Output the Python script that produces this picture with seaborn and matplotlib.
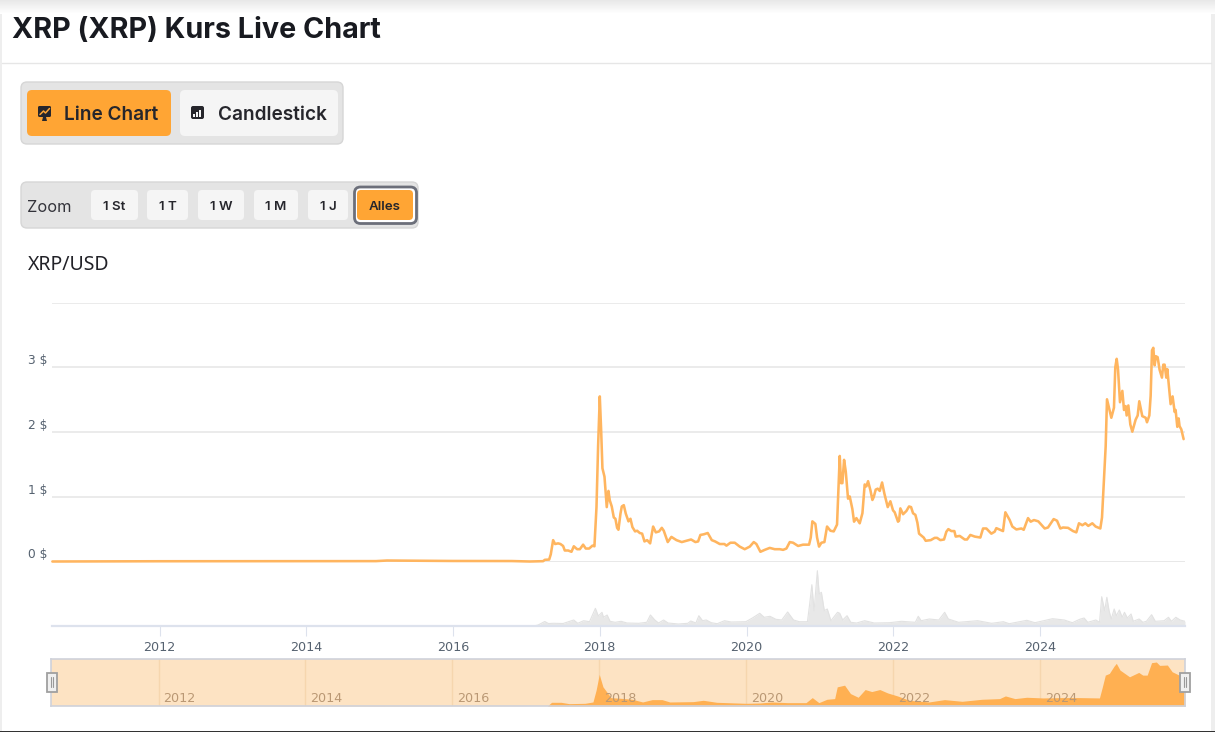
import matplotlib
matplotlib.use('Agg')
import matplotlib.pyplot as plt
from matplotlib.patches import FancyBboxPatch, Rectangle, Polygon
import pandas as pd
import seaborn as sns

# price (decimal year, USD)
price_years = [
    2010.54, 2012.0, 2014.0, 2014.95, 2015.1, 2016.0, 2016.8, 2017.046, 2017.228, 2017.251, 2017.310, 2017.332,
    2017.364, 2017.391, 2017.432, 2017.464, 2017.500, 2017.523, 2017.569, 2017.614, 2017.646, 2017.691,
    2017.728, 2017.773, 2017.809, 2017.855, 2017.900, 2017.927, 2017.955, 2017.977, 2018.000, 2018.018,
    2018.036, 2018.064, 2018.095, 2018.118, 2018.136, 2018.163, 2018.191, 2018.213, 2018.236, 2018.254,
    2018.282, 2018.300, 2018.327, 2018.354, 2018.391, 2018.418, 2018.445, 2018.481, 2018.509, 2018.545,
    2018.577, 2018.609, 2018.645, 2018.686, 2018.727, 2018.763, 2018.808, 2018.845, 2018.872, 2018.926,
    2018.976, 2019.045, 2019.117, 2019.181, 2019.244, 2019.303, 2019.340, 2019.371, 2019.417, 2019.471,
    2019.526, 2019.571, 2019.635, 2019.698, 2019.726, 2019.780, 2019.839, 2019.907, 2019.975, 2020.044,
    2020.098, 2020.134, 2020.189, 2020.248, 2020.316, 2020.384, 2020.452, 2020.498, 2020.543, 2020.589,
    2020.634, 2020.702, 2020.770, 2020.852, 2020.875, 2020.897, 2020.938, 2020.961, 2020.988, 2021.020,
    2021.061, 2021.097, 2021.143, 2021.188, 2021.233, 2021.270, 2021.288, 2021.306, 2021.329, 2021.352,
    2021.383, 2021.406, 2021.442, 2021.465, 2021.497, 2021.542, 2021.579, 2021.610, 2021.633, 2021.656,
    2021.688, 2021.715, 2021.733, 2021.760, 2021.787, 2021.815, 2021.847, 2021.878, 2021.924, 2021.960,
    2021.996, 2022.019, 2022.064, 2022.078, 2022.096, 2022.133, 2022.178, 2022.214, 2022.242, 2022.269,
    2022.301, 2022.328, 2022.351, 2022.414, 2022.441, 2022.510, 2022.564, 2022.596, 2022.641, 2022.691,
    2022.723, 2022.750, 2022.791, 2022.832, 2022.850, 2022.905, 2022.973, 2023.005, 2023.050, 2023.109,
    2023.186, 2023.223, 2023.268, 2023.336, 2023.381, 2023.404, 2023.495, 2023.527, 2023.586, 2023.622,
    2023.677, 2023.745, 2023.777, 2023.836, 2023.872, 2023.917, 2023.976, 2024.063, 2024.108, 2024.185,
    2024.231, 2024.276, 2024.312, 2024.381, 2024.449, 2024.494, 2024.530, 2024.576, 2024.617, 2024.657,
    2024.712, 2024.757, 2024.821, 2024.844, 2024.866, 2024.894, 2024.912, 2024.971, 2025.007, 2025.025,
    2025.044, 2025.062, 2025.089, 2025.121, 2025.144, 2025.166, 2025.180, 2025.203, 2025.230, 2025.257,
    2025.302, 2025.330, 2025.352, 2025.393, 2025.439, 2025.457, 2025.489, 2025.507, 2025.525, 2025.543,
    2025.561, 2025.579, 2025.602, 2025.629, 2025.661, 2025.679, 2025.697, 2025.720, 2025.734, 2025.757,
    2025.779, 2025.806, 2025.834, 2025.847, 2025.870, 2025.888, 2025.901, 2025.925, 2025.956,
]
price_usd = [
    0.0, 0.004, 0.006, 0.006, 0.015, 0.008, 0.007, 0.0, 0.005, 0.026, 0.03, 0.11,
    0.33, 0.27, 0.28, 0.27, 0.24, 0.17, 0.17, 0.15, 0.235, 0.19,
    0.19, 0.26, 0.2, 0.2, 0.245, 0.235, 0.84, 1.78, 2.55, 2.04,
    1.44, 1.31, 0.84, 1.09, 0.945, 0.85, 0.68, 0.66, 0.52, 0.49,
    0.74, 0.85, 0.87, 0.74, 0.62, 0.66, 0.53, 0.465, 0.475, 0.44,
    0.43, 0.31, 0.33, 0.28, 0.54, 0.45, 0.465, 0.52, 0.475, 0.30,
    0.38, 0.33, 0.30, 0.32, 0.34, 0.30, 0.31, 0.41, 0.42, 0.44,
    0.33, 0.31, 0.27, 0.27, 0.245, 0.29, 0.29, 0.23, 0.19, 0.23,
    0.30, 0.27, 0.15, 0.18, 0.21, 0.19, 0.19, 0.18, 0.2, 0.30,
    0.29, 0.24, 0.26, 0.26, 0.37, 0.62, 0.58, 0.37, 0.23, 0.29,
    0.30, 0.54, 0.475, 0.465, 0.57, 1.63, 1.21, 1.21, 1.57, 1.39,
    0.97, 1.005, 0.81, 0.615, 0.67, 0.59, 0.745, 1.19, 1.16, 1.24,
    1.10, 0.95, 0.995, 1.11, 1.125, 1.09, 1.22, 1.05, 0.84, 0.93,
    0.79, 0.76, 0.615, 0.63, 0.82, 0.73, 0.78, 0.85, 0.84, 0.745,
    0.72, 0.60, 0.43, 0.37, 0.32, 0.33, 0.365, 0.365, 0.33, 0.34,
    0.46, 0.50, 0.47, 0.47, 0.385, 0.395, 0.34, 0.34, 0.41, 0.385,
    0.37, 0.51, 0.51, 0.43, 0.46, 0.515, 0.47, 0.76, 0.64, 0.54,
    0.495, 0.51, 0.49, 0.67, 0.615, 0.64, 0.62, 0.51, 0.525, 0.655,
    0.63, 0.51, 0.525, 0.52, 0.47, 0.45, 0.59, 0.56, 0.59, 0.55,
    0.59, 0.54, 0.51, 0.68, 1.15, 1.78, 2.505, 2.22, 2.375, 3.0,
    3.13, 2.97, 2.46, 2.635, 2.34, 2.40, 2.255, 2.41, 2.115, 2.005,
    2.19, 2.255, 2.475, 2.245, 2.22, 2.15, 2.255, 2.56, 3.26, 3.30,
    3.03, 3.17, 3.155, 2.96, 2.84, 3.04, 3.04, 2.84, 2.97, 2.69,
    2.43, 2.55, 2.31, 2.34, 2.08, 2.21, 2.09, 2.04, 1.89,
]

# trading volume, no scale in the chart so units are relative
volume_years = [
    2010.54, 2017.10, 2017.16, 2017.25, 2017.30, 2017.375, 2017.5, 2017.645, 2017.70, 2017.78, 2017.86, 2017.94,
    2017.98, 2018.03, 2018.05, 2018.10, 2018.14, 2018.21, 2018.29, 2018.37, 2018.53, 2018.64, 2018.69,
    2018.75, 2018.80, 2018.87, 2018.93, 2019.07, 2019.20, 2019.24, 2019.31, 2019.35, 2019.40, 2019.45,
    2019.52, 2019.60, 2019.70, 2019.79, 2019.99, 2020.08, 2020.18, 2020.24, 2020.32, 2020.40, 2020.48,
    2020.56, 2020.64, 2020.72, 2020.83, 2020.86, 2020.89, 2020.92, 2020.965, 2020.99, 2021.02, 2021.06,
    2021.10, 2021.15, 2021.24, 2021.27, 2021.31, 2021.37, 2021.42, 2021.50, 2021.61, 2021.74, 2021.95,
    2022.11, 2022.30, 2022.34, 2022.38, 2022.49, 2022.62, 2022.70, 2022.75, 2022.89, 2023.15, 2023.34,
    2023.50, 2023.58, 2023.82, 2023.93, 2024.17, 2024.33, 2024.44, 2024.54, 2024.60, 2024.65, 2024.76,
    2024.81, 2024.84, 2024.88, 2024.91, 2024.94, 2024.97, 2025.01, 2025.04, 2025.08, 2025.12, 2025.15,
    2025.19, 2025.24, 2025.27, 2025.35, 2025.40, 2025.45, 2025.52, 2025.57, 2025.69, 2025.75, 2025.79,
    2025.85, 2025.91, 2025.975,
]
volume_vals = [
    0, 0, 1, 4.5, 2.5, 2.7, 2.5, 6, 2.7, 5.3, 4.3, 17.7,
    10, 13.7, 8.7, 11, 4.7, 3.7, 4.7, 3, 2.7, 3.7, 11,
    6, 3, 6, 3, 2, 2.7, 5, 3, 10.3, 5.3, 6,
    3.3, 2.3, 5.3, 4, 4.3, 8, 12.7, 8.7, 9.7, 6.7, 6,
    14, 6, 4.3, 4.3, 22, 41.3, 15.3, 55.3, 32, 33.7, 15.3,
    17, 5.3, 13.7, 12.7, 6, 10.3, 3.7, 3, 5.3, 3, 3.3,
    4.7, 3.7, 9.7, 5.3, 7, 6, 13.7, 7, 3.7, 5.3, 2.7,
    4.3, 2.3, 5.7, 3.3, 7.3, 6, 3.3, 6.7, 8, 3.7, 6,
    3.7, 29.3, 15.3, 28.7, 15.3, 7, 17, 10.3, 16, 8.7, 13.7,
    8, 12, 4.7, 7, 3.7, 4.7, 11.3, 4.7, 5.3, 8.7, 4.7,
    8.7, 6, 4.7,
]

# navigator series is coarser than the main line
nav_years = [
    2010.54, 2015.0, 2017.295, 2017.35, 2017.48, 2017.59, 2017.806, 2017.914, 2017.957, 2018.0, 2018.05, 2018.16,
    2018.29, 2018.45, 2018.59, 2018.72, 2018.855, 2018.96, 2019.28, 2019.415, 2019.60, 2020.0, 2020.19,
    2020.35, 2020.56, 2020.815, 2020.90, 2020.99, 2021.10, 2021.205, 2021.24, 2021.34, 2021.42, 2021.525,
    2021.62, 2021.71, 2021.82, 2021.925, 2022.06, 2022.22, 2022.49, 2022.70, 2022.94, 2023.21, 2023.45,
    2023.53, 2023.66, 2023.82, 2024.04, 2024.30, 2024.54, 2024.81, 2024.85, 2024.89, 2024.945, 2025.01,
    2025.04, 2025.09, 2025.22, 2025.345, 2025.40, 2025.46, 2025.52, 2025.585, 2025.63, 2025.735, 2025.80,
    2025.895, 2025.975,
]
nav_price = [
    0.0, 0.02, 0.0, 0.275, 0.275, 0.175, 0.2, 0.3, 1.18, 2.35, 1.43, 0.62,
    0.575, 0.5, 0.3, 0.475, 0.475, 0.3, 0.325, 0.425, 0.275, 0.2, 0.225,
    0.3, 0.25, 0.25, 0.625, 0.25, 0.5, 0.55, 1.425, 1.55, 0.925, 0.65,
    1.225, 1.075, 1.225, 0.975, 0.75, 0.425, 0.3, 0.475, 0.35, 0.5, 0.55,
    0.75, 0.55, 0.65, 0.6, 0.625, 0.625, 0.6, 1.425, 2.3, 2.425, 2.975,
    3.175, 2.675, 2.175, 2.5, 2.3, 2.3, 3.225, 3.275, 3.025, 3.05, 2.55,
    2.3, 2.3,
]

year_ticks = [2012, 2014, 2016, 2018, 2020, 2022, 2024]
price_ticks = [0, 1, 2, 3, 4]
price_labels = ['0 $', '1 $', '2 $', '3 $', '']
zoom_buttons = ['1 St', '1 T', '1 W', '1 M', '1 J']

W, H = 1215, 732
X_MIN, X_MAX = 2010.535, 2025.975

ORANGE = '#ffa534'
LINE = '#ffb55f'
GRID = '#e8e8e8'
AXIS_BLUE = '#dde2ed'
TICK_TXT = '#566270'
TICK_FONT = ['DejaVu Sans']

sns.set_theme(style='white')
plt.rcParams['font.family'] = ['Inter', 'DejaVu Sans']

prices = pd.DataFrame({'year': price_years, 'price': price_usd})
volumes = pd.DataFrame({'year': volume_years, 'volume': volume_vals})
nav = pd.DataFrame({'year': nav_years, 'price': nav_price})


def px_axes(fig, left, top, right, bottom, **kw):
    """axes from pixel box, y measured from the top of the image"""
    return fig.add_axes([left / W, 1 - bottom / H, (right - left) / W, (bottom - top) / H], **kw)


def box(ax, x0, y0, x1, y1, face, edge='none', lw=0, r=5, z=2):
    ax.add_patch(FancyBboxPatch((x0 + r, y0 + r), x1 - x0 - 2 * r, y1 - y0 - 2 * r,
                                boxstyle=f'round,pad={r},rounding_size={r}',
                                fc=face, ec=edge, lw=lw, zorder=z))


fig = plt.figure(figsize=(W / 100, H / 100), dpi=100, facecolor='white')

# main price chart
ax = px_axes(fig, 52, 302.5, 1185, 561.5)
ax.set_facecolor('none')
sns.lineplot(data=prices, x='year', y='price', ax=ax, color=LINE, linewidth=1.85,
             estimator=None, errorbar=None, legend=False, clip_on=False, zorder=5)
ax.set_xlim(X_MIN, X_MAX)
ax.set_ylim(0, 4)
ax.set_xticks([])
ax.set_yticks(price_ticks)
ax.set_yticklabels(price_labels, fontsize=8.8, color=TICK_TXT, va='bottom', family=TICK_FONT)
ax.tick_params(axis='y', length=0, pad=3.5)
ax.set_xlabel('')
ax.set_ylabel('')
ax.grid(axis='y', color=GRID, lw=1.2)
ax.set_axisbelow(True)
sns.despine(ax=ax, left=True, bottom=True, top=True, right=True)
ax.axhline(0, color=GRID, lw=1.8, zorder=1)

# volume
vol_ax = px_axes(fig, 52, 570, 1185, 626)
vol_ax.set_facecolor('none')
vol_ax.fill_between(volumes['year'], volumes['volume'], 0, color='#e8e8e8', lw=0)
sns.lineplot(data=volumes, x='year', y='volume', ax=vol_ax, color='#e2e2e2', linewidth=0.8,
             estimator=None, errorbar=None, legend=False)
vol_ax.set_xlim(X_MIN, X_MAX)
vol_ax.set_ylim(0, 56)
vol_ax.set_yticks([])
vol_ax.set_xticks(year_ticks)
vol_ax.set_xticklabels([str(y) for y in year_ticks], fontsize=9.2, color=TICK_TXT, family=TICK_FONT)
vol_ax.tick_params(axis='x', length=7.5, width=0.8, color=AXIS_BLUE, pad=3.5, bottom=True)
vol_ax.set_xlabel('')
vol_ax.set_ylabel('')
sns.despine(ax=vol_ax, left=True, top=True, right=True)
vol_ax.spines['bottom'].set_color(AXIS_BLUE)
vol_ax.spines['bottom'].set_linewidth(1.6)

# navigator
nav_ax = px_axes(fig, 51, 659, 1185, 706)
nav_ax.set_facecolor('#fde3c3')
nav_ax.set_xlim(X_MIN, X_MAX)
nav_ax.set_ylim(0, 3.5)
nav_ax.fill_between(nav['year'], nav['price'], 0, color='#ffb052', lw=0, zorder=2)
nav_ax.set_yticks([])
nav_ax.set_xticks(year_ticks)
nav_ax.set_xticklabels([])
nav_ax.tick_params(axis='x', length=0)
nav_ax.grid(axis='x', color='#f6d6ae', lw=1, zorder=1)
nav_ax.set_axisbelow(True)
for y in year_ticks:
    nav_ax.annotate(str(y), (y, 0), xytext=(3.5, 3.2), textcoords='offset points', fontsize=9.2,
                    color='#ba9874', zorder=3, family=TICK_FONT)
for s in nav_ax.spines.values():
    s.set_color('#cfd2da')
    s.set_linewidth(1.2)

# page furniture, in pixel coordinates on top of everything
ui = fig.add_axes([0, 0, 1, 1], facecolor='none', zorder=10)
ui.set_xlim(0, W)
ui.set_ylim(H, 0)
ui.axis('off')

ui.add_patch(Rectangle((0, 0), 2, H, fc='#eeeeee', lw=0))
ui.add_patch(Rectangle((1211, 0), 4, H, fc='#eeeeee', lw=0))
for i in range(14):
    shade = 0.91 + 0.09 * i / 13
    ui.add_patch(Rectangle((0, i), W, 1, fc=(shade, shade, shade), lw=0))
ui.plot([2, 1211], [62.5, 62.5], color='#e6e6e6', lw=1)
ui.add_patch(Rectangle((0, 730.5), W, 1.5, fc='#333333', lw=0))

ui.text(12, 30, 'XRP (XRP) Kurs Live Chart', fontsize=20.7, fontweight='bold', color='#181a20', va='center')

# chart type buttons
box(ui, 21, 82, 343, 144, '#e4e4e4', '#d6d6d6', 1, r=6)
box(ui, 27, 90, 171, 136, ORANGE, r=5, z=3)
box(ui, 180, 90, 338, 136, '#f5f5f5', r=5, z=3)
ui.text(64, 114.5, 'Line Chart', fontsize=13.7, fontweight='semibold', color='#26262c', va='center', zorder=4)
ui.text(218, 114.5, 'Candlestick', fontsize=13.7, fontweight='semibold', color='#26262c', va='center', zorder=4)

# line chart icon
box(ui, 38, 106, 51, 117, '#26262c', r=1.5, z=4)
ui.add_patch(Polygon([(43, 117), (46, 117), (47, 121), (42, 121)], fc='#26262c', lw=0, zorder=4))
ui.plot([40, 43.5, 45.5, 49.5], [114.5, 111, 113, 108.5], color=ORANGE, lw=1.1, zorder=5)
# candlestick icon
box(ui, 191, 106, 204, 119, '#26262c', r=2, z=4)
for bx, by in [(194, 114), (197, 112), (200, 109.5)]:
    ui.add_patch(Rectangle((bx - 0.6, by), 1.4, 116.5 - by, fc='#f5f5f5', lw=0, zorder=5))

# range buttons
box(ui, 21, 182, 418, 228, '#e4e4e4', '#d6d6d6', 1, r=6)
ui.text(27, 207.5, 'Zoom', fontsize=11.8, color='#33333a', va='center', zorder=4)
button_x = [(91, 138), (147, 188), (198, 244), (254, 298), (308, 348)]
for (x0, x1), label in zip(button_x, zoom_buttons):
    box(ui, x0, 190, x1, 220, '#f5f5f5', r=4, z=3)
    ui.text((x0 + x1) / 2, 207, label, fontsize=9.6, fontweight='semibold', color='#26262c',
            ha='center', va='center', zorder=4)
box(ui, 354.5, 187, 416.5, 223.5, 'white', '#6c6f7a', 2, r=6, z=3)
box(ui, 357, 190, 413, 220, ORANGE, r=4, z=4)
ui.text(385, 207, 'Alles', fontsize=9.6, fontweight='semibold', color='#26262c', ha='center', va='center', zorder=5)

ui.text(28, 264.5, 'XRP/USD', fontsize=14, color='#222228', va='center', family=['Noto Sans', 'DejaVu Sans'])

# navigator handles
for hx in (47, 1180):
    ui.add_patch(Rectangle((hx, 672.5), 9.5, 19, fc='#f0f0f0', ec='#a0a0a0', lw=1.3, zorder=6))
    ui.plot([hx + 3.7, hx + 3.7], [677, 687], color='#999999', lw=0.8, zorder=7)
    ui.plot([hx + 5.8, hx + 5.8], [677, 687], color='#999999', lw=0.8, zorder=7)

fig.savefig('out.png', dpi=100)
